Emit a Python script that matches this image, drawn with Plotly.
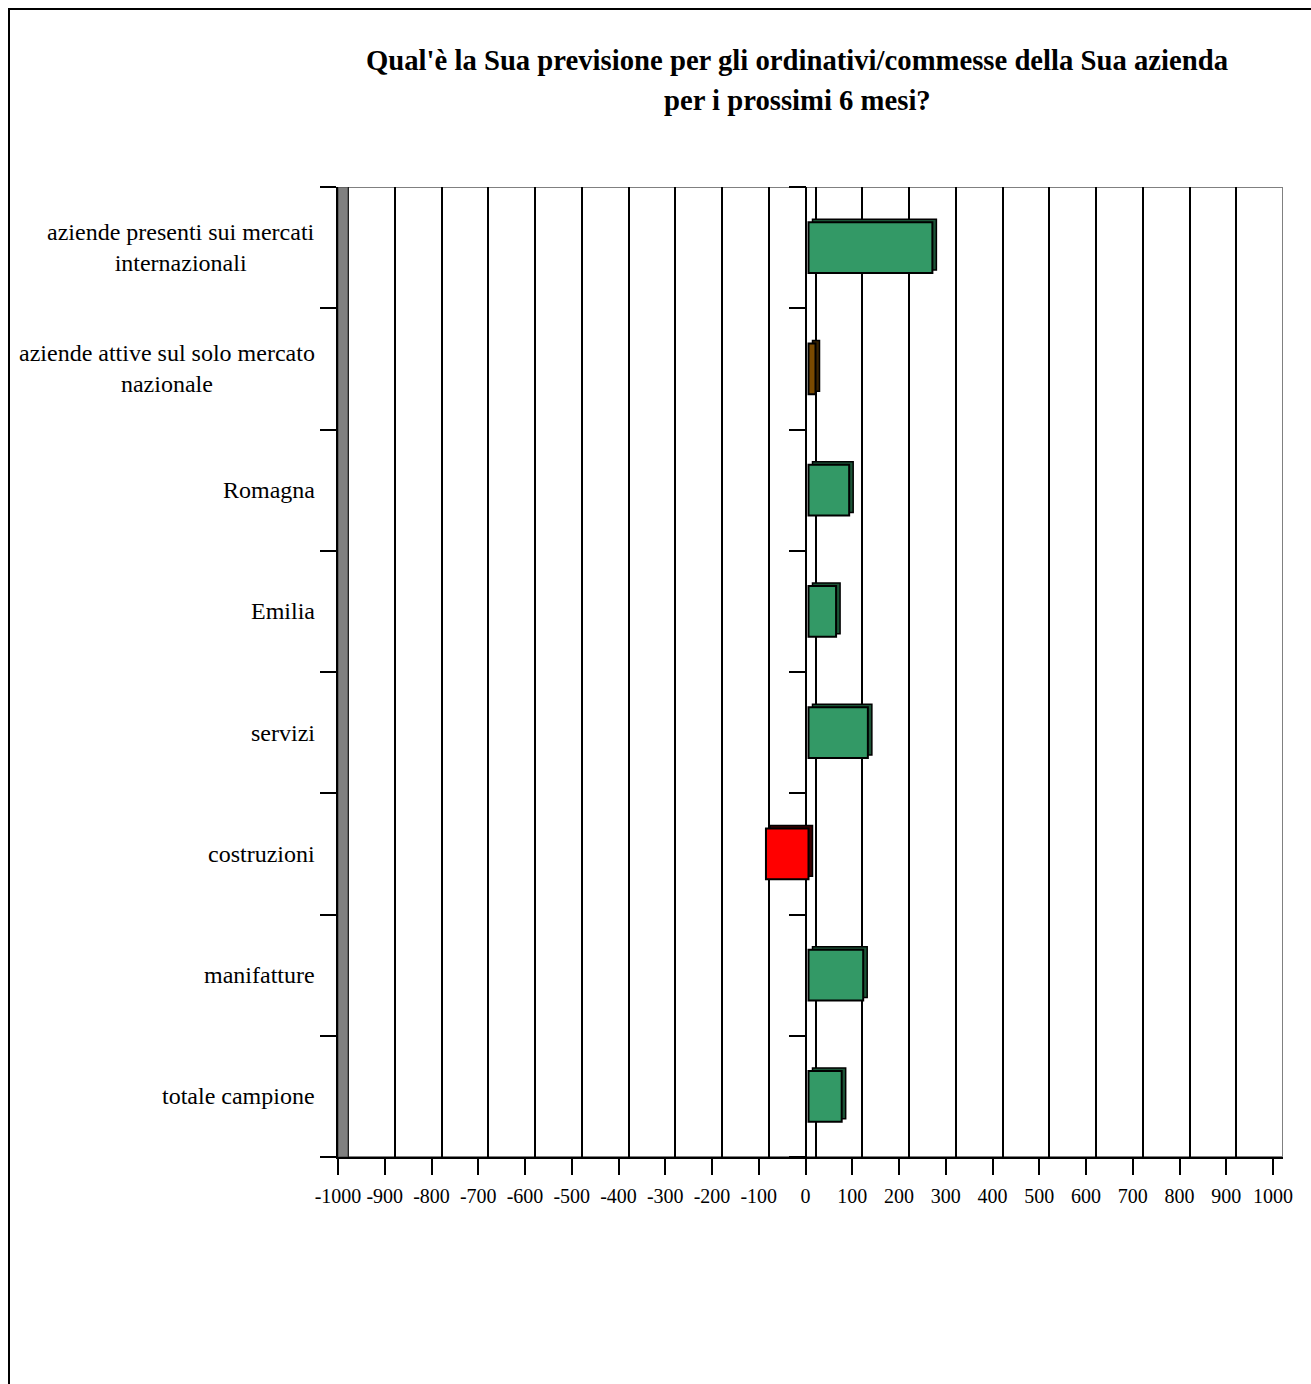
import plotly.graph_objects as go

# ---------------- data (top to bottom) ----------------
categories = [
    "aziende presenti sui mercati<br>internazionali",
    "aziende attive sul solo mercato<br>nazionale",
    "Romagna",
    "Emilia",
    "servizi",
    "costruzioni",
    "manifatture",
    "totale campione",
]
values = [265, 15, 87, 59, 127, -91, 117, 71]
tick_values = list(range(-1000, 1001, 100))
tick_labels = [str(v) for v in tick_values]
title_lines = [
    "Qual'è la Sua previsione per gli ordinativi/commesse della Sua azienda",
    "per i prossimi 6 mesi?",
]

# ---------------- styling ----------------
GREEN, GREEN_D = "#339966", "#1c5537"
RED, RED_D = "#FF0000", "#3a0000"
BROWN, BROWN_D = "#7A4A00", "#3a2300"


def front_color(v, i):
    if v < 0:
        return RED
    if i == 1:
        return BROWN
    return GREEN


def side_color(v, i):
    if v < 0:
        return RED_D
    if i == 1:
        return BROWN_D
    return GREEN_D


W_FIG, H_FIG = 1311, 1384
L, R, T, B = 338, 1283, 187, 1157          # plot area in pixels
PW, PH = R - L, B - T
UNIT = 935 / 2000                           # px per value unit on the front axis
X0 = -1000
X1 = X0 + PW / UNIT
n = len(categories)
Y_RANGE = [n - 0.5, -0.5]

WALL_D, BAR_F, BAR_B, BAR_UP = 10, 3, 7, 3   # 3-D depth offsets in px


def xshift(px):
    d = px / UNIT
    return [X0 - d, X1 - d]


def yshift(px):
    s = px * n / PH
    return [Y_RANGE[0] + s, Y_RANGE[1] + s]


def paper_x(px):
    return (px - L) / PW


def paper_y(px):
    return (B - px) / PH


ys = list(range(n))
boundaries = [i - 0.5 for i in range(n + 1)]
fig = go.Figure()

# invisible helper traces so every axis gets drawn
fig.add_trace(go.Scatter(x=[0], y=[0], xaxis="x", yaxis="y", mode="markers",
                         marker=dict(opacity=0), showlegend=False, hoverinfo="skip"))
fig.add_trace(go.Scatter(x=[0], y=[0], xaxis="x2", yaxis="y", mode="markers",
                         marker=dict(opacity=0), showlegend=False, hoverinfo="skip"))
fig.add_trace(go.Scatter(x=[0], y=[0], xaxis="x", yaxis="y2", mode="markers",
                         marker=dict(opacity=0), showlegend=False, hoverinfo="skip"))

# bar depth (side/top faces)
fig.add_trace(go.Bar(
    x=values, y=ys, orientation="h", width=0.42,
    marker=dict(color=[side_color(v, i) for i, v in enumerate(values)],
                line=dict(color="black", width=1.5)),
    xaxis="x3", yaxis="y3", hoverinfo="skip", showlegend=False,
))
# bar front faces
fig.add_trace(go.Bar(
    x=values, y=ys, orientation="h", width=0.42,
    marker=dict(color=[front_color(v, i) for i, v in enumerate(values)],
                line=dict(color="black", width=2)),
    xaxis="x4", yaxis="y4", showlegend=False,
))

serif = "Liberation Serif, Times New Roman, serif"
tick_font = dict(family=serif, size=20, color="black")
label_font = dict(family=serif, size=24, color="black")
title_font = dict(family=serif, size=28.7, color="black", weight="bold")

fig.update_layout(
    width=W_FIG, height=H_FIG,
    margin=dict(l=L, r=W_FIG - R, t=T, b=H_FIG - B, pad=0),
    paper_bgcolor="white", plot_bgcolor="rgba(0,0,0,0)",
    barmode="overlay", showlegend=False,
    xaxis=dict(
        range=[X0, X1], tickmode="array", tickvals=tick_values, ticktext=tick_labels,
        ticks="outside", ticklen=16, tickwidth=1.5, tickcolor="black",
        showline=True, linecolor="black", linewidth=2,
        showgrid=False, zeroline=True, zerolinecolor="black", zerolinewidth=2,
        tickfont=tick_font, ticklabelstandoff=4, anchor="y", fixedrange=True,
    ),
    xaxis2=dict(
        overlaying="x", range=xshift(WALL_D), tickmode="array", tickvals=tick_values,
        showgrid=True, gridcolor="black", gridwidth=1.5, showticklabels=False,
        ticks="", zeroline=False, showline=False, anchor="y",
    ),
    xaxis3=dict(overlaying="x", range=xshift(BAR_B), visible=False, anchor="y3"),
    xaxis4=dict(overlaying="x", range=xshift(BAR_F), visible=False, anchor="y4"),
    yaxis=dict(
        range=Y_RANGE, tickmode="array", tickvals=boundaries,
        showticklabels=False, ticks="outside", ticklen=16, tickwidth=1.5, tickcolor="black",
        showline=True, linecolor="black", linewidth=2,
        showgrid=False, zeroline=False, fixedrange=True,
    ),
    yaxis2=dict(
        overlaying="y", anchor="free", position=paper_x(L + 1000 * UNIT), side="left",
        range=Y_RANGE, tickmode="array", tickvals=boundaries,
        showticklabels=False, ticks="outside", ticklen=17, tickwidth=1.5, tickcolor="black",
        showline=False, showgrid=False, zeroline=False,
    ),
    yaxis3=dict(overlaying="y", range=yshift(BAR_UP), visible=False),
    yaxis4=dict(overlaying="y", range=Y_RANGE, visible=False),
)

shapes = [
    # outer chart frame
    dict(type="rect", xref="paper", yref="paper",
         x0=paper_x(9), x1=paper_x(W_FIG + 20), y0=paper_y(H_FIG + 20), y1=paper_y(9),
         line=dict(color="black", width=2), fillcolor="rgba(0,0,0,0)", layer="below"),
    # back wall border
    dict(type="rect", xref="x2", yref="y", x0=-1000, x1=1000, y0=-0.5, y1=n - 0.5,
         line=dict(color="#808080", width=2), fillcolor="rgba(0,0,0,0)", layer="below"),
    # left side wall
    dict(type="rect", xref="x", yref="y", x0=X0, x1=X0 + WALL_D / UNIT, y0=-0.5, y1=n - 0.5,
         line=dict(color="#404040", width=1), fillcolor="#808080", layer="above"),
]
fig.update_layout(shapes=shapes)

annotations = []
for i, c in enumerate(categories):
    annotations.append(dict(
        text=c, xref="paper", yref="y", x=paper_x(317), y=i,
        xanchor="right", yanchor="middle", align="center", showarrow=False,
        font=label_font,
    ))
for j, line in enumerate(title_lines):
    annotations.append(dict(
        text=line, xref="paper", yref="paper", x=paper_x(797), y=paper_y(60 + 40 * j),
        xanchor="center", yanchor="middle", showarrow=False, font=title_font,
    ))
fig.update_layout(annotations=annotations)

fig.write_html("out.html", config={"displayModeBar": False},
               post_script="document.body.style.margin='0px';")
